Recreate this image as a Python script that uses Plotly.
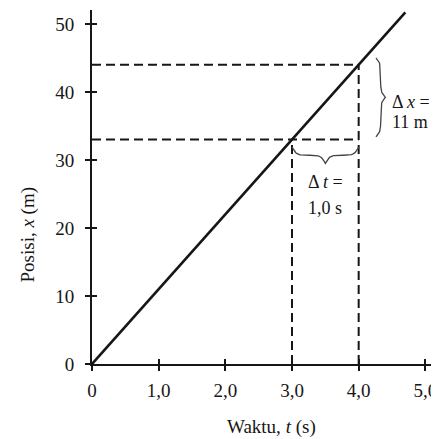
import numpy as np
import plotly.graph_objects as go

# ---- data ----
t_line = [0.0, 4.7]          # s
x_line = [0.0, 51.7]         # m
t_points = [3.0, 4.0]        # s  (read-off times)
x_points = [33.0, 44.0]      # m  (positions at those times)
x_ticks = [0, 1, 2, 3, 4, 5]
x_ticktext = ["0", "1,0", "2,0", "3,0", "4,0", "5,0"]
y_ticks = [0, 10, 20, 30, 40, 50]
y_ticktext = ["0", "10", "20", "30", "40", "50"]

INK = "#161616"
FONT = "Liberation Serif"


def brace(a, b, n=101, beta=30.0):
    """normalised curly-brace profile between a and b (returns along, offset in [0,1])"""
    u = np.linspace(0.0, 1.0, n)
    half = u[: n // 2 + 1]
    yh = 1 / (1 + np.exp(-beta * (half - half[0]))) + 1 / (1 + np.exp(-beta * (half - half[-1])))
    y = np.concatenate((yh, yh[-2::-1]))
    y = (y - y.min()) / (y.max() - y.min())
    return a + (b - a) * u, y


fig = go.Figure()

# main line
fig.add_trace(go.Scatter(x=t_line, y=x_line, mode="lines",
                         line=dict(color=INK, width=2.6), hoverinfo="skip"))

dash = dict(color=INK, width=2, dash="9px,5px")
t1, t2 = t_points
x1, x2 = x_points
# horizontal dashed lines from y-axis to t2
for xv in x_points:
    fig.add_trace(go.Scatter(x=[0, t2], y=[xv, xv], mode="lines", line=dash, hoverinfo="skip"))
# vertical dashed lines from t-axis to the curve
for tv, xv in zip(t_points, x_points):
    fig.add_trace(go.Scatter(x=[tv, tv], y=[0, xv], mode="lines", line=dash, hoverinfo="skip"))

brace_line = dict(color="#444", width=1.3)
# horizontal brace under the Δt segment
bt, by = brace(t1, t2)
fig.add_trace(go.Scatter(x=bt, y=x1 - 1.1 - 2.4 * by, mode="lines",
                         line=brace_line, hoverinfo="skip"))
# vertical brace right of the Δx segment
bx, bo = brace(x1 + 0.4, x2 + 1.0)
fig.add_trace(go.Scatter(x=t2 + 0.26 + 0.14 * bo, y=bx, mode="lines",
                         line=brace_line, hoverinfo="skip"))

# invisible trace to carry the mirrored tick axes
fig.add_trace(go.Scatter(x=[0], y=[0], xaxis="x2", yaxis="y2", mode="markers",
                         marker=dict(opacity=0), hoverinfo="skip"))

axis_common = dict(showgrid=False, zeroline=False, showline=True, linecolor=INK, linewidth=2,
                   ticks="outside", ticklen=5, tickwidth=1.5, tickcolor=INK,
                   tickfont=dict(family=FONT, size=19, color=INK),
                   ticklabeloverflow="allow")
fig.update_layout(
    width=431, height=431,
    margin=dict(l=84, r=4, t=2, b=75),
    paper_bgcolor="white", plot_bgcolor="white",
    showlegend=False,
    xaxis=dict(range=[0, 5.1], tickvals=x_ticks, ticktext=x_ticktext,
               ticklabelstandoff=3, **axis_common),
    yaxis=dict(range=[0, 52.06], tickvals=y_ticks, ticktext=y_ticktext,
               ticklabelstandoff=7, **axis_common),
    xaxis2=dict(overlaying="x", matches="x", anchor="y", side="bottom", showgrid=False,
                zeroline=False, showline=False, ticks="inside", ticklen=5, tickwidth=1.5,
                tickcolor=INK, tickvals=x_ticks, showticklabels=False),
    yaxis2=dict(overlaying="y", matches="y", anchor="x", side="left", showgrid=False,
                zeroline=False, showline=False, ticks="inside", ticklen=5, tickwidth=1.5,
                tickcolor=INK, tickvals=y_ticks, showticklabels=False),
    font=dict(family=FONT, color=INK),
)

ann_font = dict(family=FONT, size=18, color=INK)
fig.add_annotation(x=(t1 + t2) / 2, y=26.8, text="Δ <i>t</i> =", showarrow=False, font=ann_font)
fig.add_annotation(x=(t1 + t2) / 2, y=22.9, text="1,0 s", showarrow=False, font=ann_font)
fig.add_annotation(x=4.47, y=38.5, text="Δ <i>x</i> =", showarrow=False, font=ann_font, xanchor="left")
fig.add_annotation(x=4.47, y=35.6, text="11 m", showarrow=False, font=ann_font, xanchor="left")

# axis titles
fig.add_annotation(xref="paper", yref="paper", x=-0.187, y=0.367, textangle=-90,
                   xanchor="center", yanchor="middle",
                   text="Posisi, <i>x</i> (m)", showarrow=False,
                   font=dict(family=FONT, size=19, color=INK))
fig.add_annotation(xref="paper", yref="paper", x=0.528, y=-0.178,
                   xanchor="center", yanchor="middle",
                   text="Waktu, <i>t</i> (s)", showarrow=False,
                   font=dict(family=FONT, size=19, color=INK))

fig.write_html("out.html")
